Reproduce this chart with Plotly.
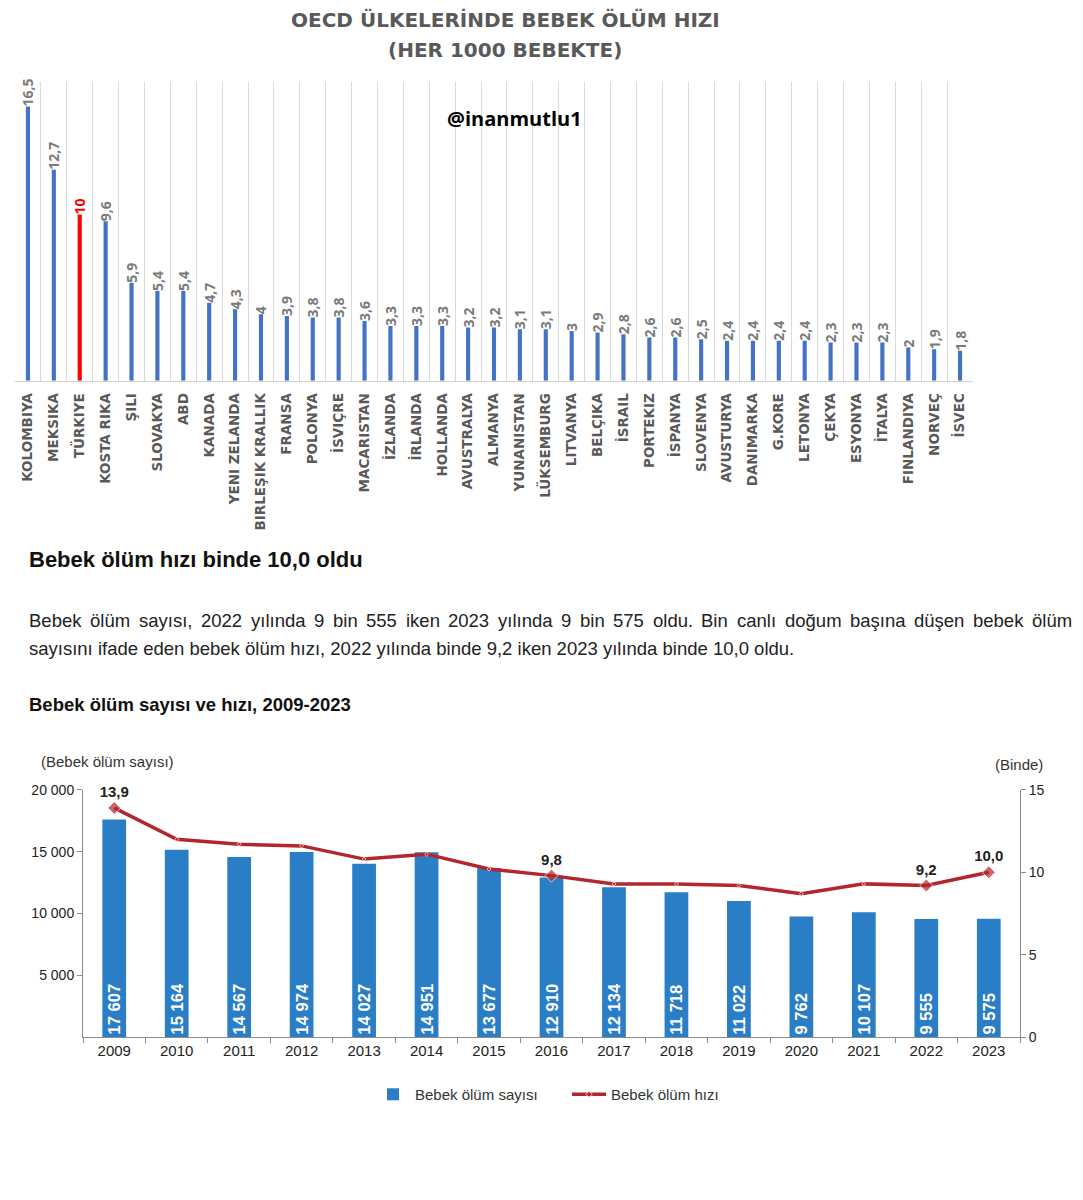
import plotly.graph_objects as go

# ---------------- data: OECD infant mortality (per 1000) ----------------
countries = ["KOLOMBIYA", "MEKSIKA", "TÜRKIYE", "KOSTA RIKA", "ŞILI", "SLOVAKYA", "ABD",
             "KANADA", "YENI ZELANDA", "BIRLEŞIK KRALLIK", "FRANSA", "POLONYA", "İSVIÇRE",
             "MACARISTAN", "İZLANDA", "İRLANDA", "HOLLANDA", "AVUSTRALYA", "ALMANYA",
             "YUNANISTAN", "LÜKSEMBURG", "LITVANYA", "BELÇIKA", "İSRAIL", "PORTEKIZ",
             "İSPANYA", "SLOVENYA", "AVUSTURYA", "DANIMARKA", "G.KORE", "LETONYA", "ÇEKYA",
             "ESYONYA", "İTALYA", "FINLANDIYA", "NORVEÇ", "İSVEC"]
oecd_rates = [16.5, 12.7, 10, 9.6, 5.9, 5.4, 5.4, 4.7, 4.3, 4, 3.9, 3.8, 3.8, 3.6, 3.3, 3.3,
              3.3, 3.2, 3.2, 3.1, 3.1, 3, 2.9, 2.8, 2.6, 2.6, 2.5, 2.4, 2.4, 2.4, 2.4, 2.3,
              2.3, 2.3, 2, 1.9, 1.8]
highlight_country = "TÜRKIYE"

# ---------------- data: Türkiye infant deaths and rate ----------------
years = ["2009", "2010", "2011", "2012", "2013", "2014", "2015", "2016",
         "2017", "2018", "2019", "2020", "2021", "2022", "2023"]
infant_deaths = [17607, 15164, 14567, 14974, 14027, 14951, 13677, 12910,
                 12134, 11718, 11022, 9762, 10107, 9555, 9575]
infant_rate = [13.9, 12.0, 11.7, 11.6, 10.8, 11.1, 10.2, 9.8,
               9.3, 9.3, 9.2, 8.7, 9.3, 9.2, 10.0]
labeled_years = ["2009", "2016", "2022", "2023"]

left_tick_vals = [5000, 10000, 15000, 20000]
right_tick_vals = [0, 5, 10, 15]

# ---------------- texts ----------------
title_line1 = "OECD ÜLKELERİNDE BEBEK ÖLÜM HIZI"
title_line2 = "(HER 1000 BEBEKTE)"
watermark = "@inanmutlu1"
headline = "Bebek ölüm hızı binde 10,0 oldu"
para_line1 = ("Bebek ölüm sayısı, 2022 yılında 9 bin 555 iken 2023 yılında 9 bin 575 oldu. "
              "Bin canlı doğum başına düşen bebek ölüm")
para_line2 = ("sayısını ifade eden bebek ölüm hızı, 2022 yılında binde 9,2 iken 2023 yılında "
              "binde 10,0 oldu.")
subtitle = "Bebek ölüm sayısı ve hızı, 2009-2023"
left_axis_title = "(Bebek ölüm sayısı)"
right_axis_title = "(Binde)"
legend_bar = "Bebek ölüm sayısı"
legend_line = "Bebek ölüm hızı"

# page body has an 8px margin: size the figure so the page fits the window exactly
OFF = 8
W, H = 1083 - 2 * OFF, 1200 - 2 * OFF


def px(x):
    return (x - OFF) / W


def py(y):
    yc = (y - 8.3) / 0.984
    return 1 - (yc - OFF) / H


def fmt_dec(v):
    return ("%g" % v).replace(".", ",")


def fmt_thousands(v):
    return f"{v:,}".replace(",", " ")


BLUE_TOP = "#4472C4"
RED_TOP = "#FF0000"
BLUE_BOT = "#2A7EC6"
LINE_RED = "#B3262C"
GRAY_AX = "#8C8C8C"
SANS = "Liberation Sans, Arial, sans-serif"
OPEN = "Open Sans, sans-serif"
WIDE = "DejaVu Sans, sans-serif"

fig = go.Figure()

# ---- top chart ----
bar_colors = [RED_TOP if c == highlight_country else BLUE_TOP for c in countries]
label_colors = [RED_TOP if c == highlight_country else "#7A7A7A" for c in countries]
fig.add_trace(go.Bar(
    x=countries, y=oecd_rates, xaxis="x", yaxis="y",
    marker=dict(color=bar_colors, line=dict(width=0)),
    width=0.16,
    text=[fmt_dec(v) for v in oecd_rates],
    textposition="outside", textangle=-90, constraintext="none",
    textfont=dict(family=OPEN, size=14, color=label_colors, weight="bold"),
    cliponaxis=False, showlegend=False, hoverinfo="x+y",
))

# ---- bottom chart ----
fig.add_trace(go.Bar(
    x=years, y=infant_deaths, xaxis="x2", yaxis="y2",
    name=legend_bar,
    marker=dict(color=BLUE_BOT, line=dict(width=0)),
    width=0.38,
    text=[fmt_thousands(v) for v in infant_deaths],
    textposition="inside", insidetextanchor="start", textangle=-90,
    constraintext="none",
    textfont=dict(family=SANS, size=16.5, color="white", weight="bold"),
))
fig.add_trace(go.Scatter(
    x=years, y=infant_rate, xaxis="x2", yaxis="y3",
    name=legend_line, mode="lines+markers+text",
    line=dict(color=LINE_RED, width=3.5),
    marker=dict(symbol="diamond", color=LINE_RED,
                size=[10 if yr in labeled_years else 3 for yr in years]),
    text=[("%.1f" % r).replace(".", ",") if yr in labeled_years else ""
          for yr, r in zip(years, infant_rate)],
    textposition="top center",
    textfont=dict(family=SANS, size=15, color="#222222", weight="bold"),
    cliponaxis=False,
))

# ---- annotations ----
ann = []


def add_text(text, x, y, size, family, color, xanchor="left"):
    ann.append(dict(text=text, x=px(x), y=py(y), xref="paper", yref="paper",
                    showarrow=False, xanchor=xanchor, yanchor="middle",
                    font=dict(family=family, size=size, color=color)))


add_text(f"<b>{title_line1}</b>", 505, 20, 20, WIDE, "#595959", "center")
add_text(f"<b>{title_line2}</b>", 505, 50, 20, WIDE, "#595959", "center")
add_text(f"<b>{watermark}</b>", 514, 118, 20, OPEN, "#000000", "center")
add_text(f"<b>{headline}</b>", 27, 558, 22, SANS, "#111111")

# justified first paragraph line (Arial metrics, per 1000 em)
arial_w = {" ": 278, ",": 278, ".": 278, "-": 333, "B": 667,
           "a": 556, "b": 556, "c": 500, "d": 556, "e": 556, "f": 278, "g": 556, "h": 556,
           "i": 222, "j": 222, "k": 500, "l": 222, "m": 833, "n": 556, "o": 556, "p": 556,
           "r": 333, "s": 500, "t": 278, "u": 556, "v": 500, "y": 500, "z": 500,
           "ı": 278, "ö": 556, "ü": 556, "ğ": 556, "ş": 500, "ç": 500}
PSIZE = 18.5


def word_width(w):
    return sum(arial_w.get(ch, 556) for ch in w) * PSIZE / 1000.0


words = para_line1.split(" ")
x_left, x_right = 27, 1070
natural = sum(word_width(w) for w in words)
gap = (x_right - x_left - natural) / (len(words) - 1)
cur = x_left
for w in words:
    add_text(w, cur, 619, PSIZE, SANS, "#222222")
    cur += word_width(w) + gap
add_text(para_line2, 27, 647, PSIZE, SANS, "#222222")
add_text(f"<b>{subtitle}</b>", 27, 703, 18.5, SANS, "#111111")
add_text(left_axis_title, 39, 760, 15, SANS, "#333333")
add_text(right_axis_title, 1045, 763, 15, SANS, "#333333", "right")

fig.update_layout(
    width=W, height=H,
    margin=dict(l=0, r=0, t=0, b=0),
    paper_bgcolor="white", plot_bgcolor="white",
    annotations=ann,
    xaxis=dict(domain=[px(15), px(973)], anchor="y", type="category",
               range=[-0.5, len(countries) - 0.5],
               tickson="boundaries", showgrid=True, gridcolor="#DADADA", gridwidth=1,
               showline=True, linecolor="#D0D0D0", linewidth=1, ticks="",
               tickangle=-90, ticklabelstandoff=6,
               tickfont=dict(family=WIDE, size=13.5, color="#595959", weight="bold"),
               fixedrange=True),
    yaxis=dict(domain=[py(380), py(81.7)], anchor="x", range=[0, 18],
               showgrid=False, zeroline=False, showticklabels=False, showline=False),
    xaxis2=dict(domain=[px(83), px(1020)], anchor="y2", type="category",
                range=[-0.5, len(years) - 0.5],
                tickson="boundaries", showgrid=False, showline=True, linecolor=GRAY_AX,
                linewidth=1, ticks="outside", ticklen=5, tickcolor=GRAY_AX,
                tickfont=dict(family=SANS, size=15, color="#222222")),
    yaxis2=dict(domain=[py(1035), py(788)], anchor="x2", range=[0, 20000],
                tickvals=left_tick_vals, ticktext=[fmt_thousands(v) for v in left_tick_vals],
                showgrid=False, zeroline=False, showline=True, linecolor=GRAY_AX,
                ticks="outside", ticklen=5, tickcolor=GRAY_AX,
                tickfont=dict(family=SANS, size=14, color="#222222")),
    yaxis3=dict(overlaying="y2", side="right", anchor="x2", range=[0, 15],
                tickvals=right_tick_vals, showgrid=False, zeroline=False, showline=True,
                linecolor=GRAY_AX, ticks="outside", ticklen=5, tickcolor=GRAY_AX,
                tickfont=dict(family=SANS, size=14, color="#222222")),
    legend=dict(orientation="h", x=px(567), xanchor="center", y=py(1092), yanchor="middle",
                font=dict(family=SANS, size=15, color="#333333"), traceorder="normal",
                itemwidth=34, entrywidth=147, entrywidthmode="pixels"),
)

fig.write_html("out.html")
